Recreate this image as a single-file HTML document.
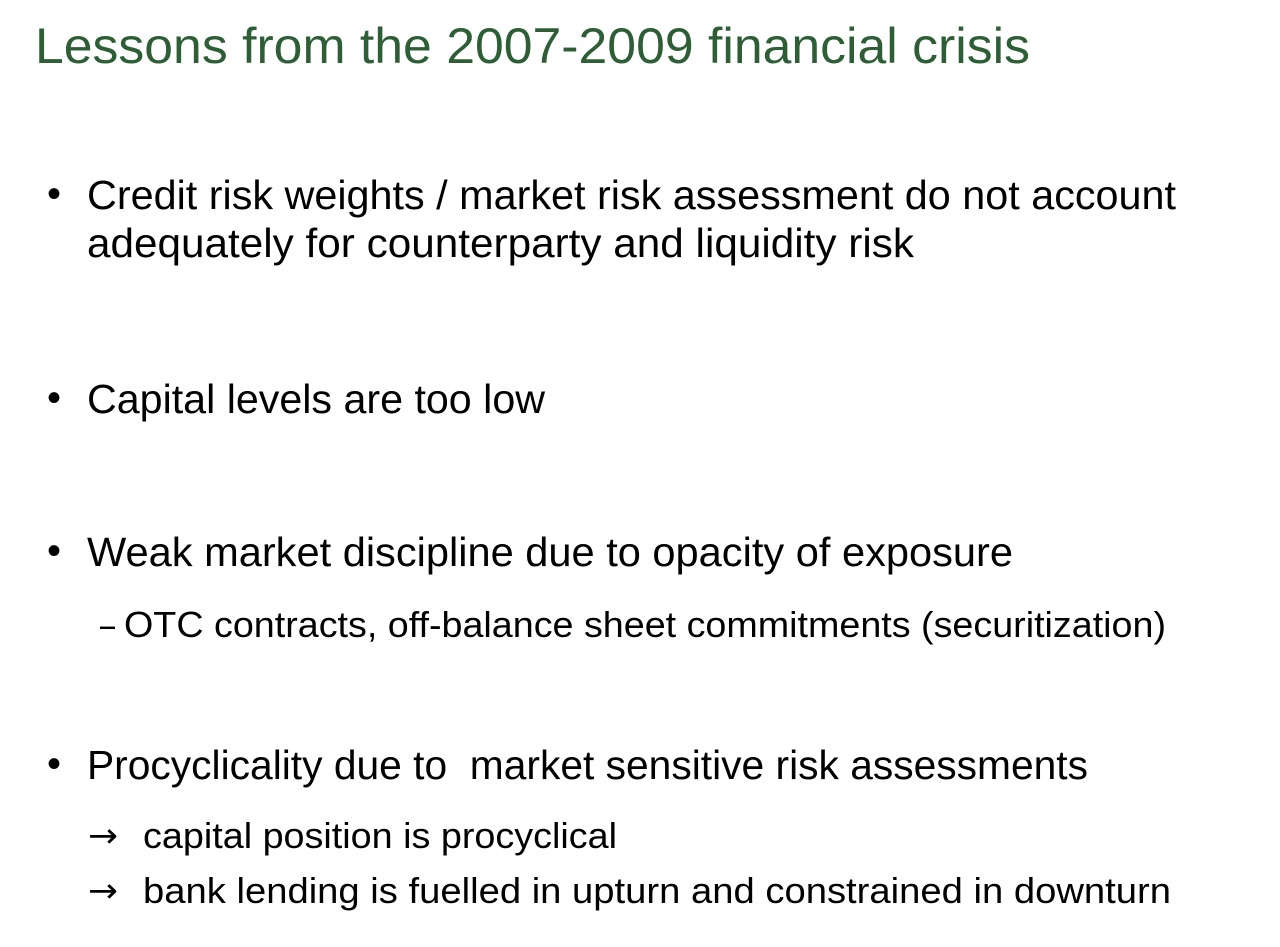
<!DOCTYPE html>
<html><head><meta charset="utf-8">
<style>
html,body{margin:0;padding:0;background:#fff;}
body{width:1280px;height:947px;position:relative;overflow:hidden;font-family:"Liberation Sans",sans-serif;color:#000;}
.t{position:absolute;white-space:pre;line-height:1;transform-origin:0 0;}
.title{color:#2e5e35;}
.arr{font-family:"DejaVu Sans",sans-serif;}
</style></head>
<body>
<div class="t title" data-x="35" data-b="63" data-w="995" data-f="50">Lessons from the 2007-2009 financial crisis</div>

<div class="t" data-x="47" data-b="208" data-f="40">•</div>
<div class="t" data-x="87" data-b="210" data-w="1089" data-f="41">Credit risk weights / market risk assessment do not account</div>
<div class="t" data-x="87" data-b="258" data-w="827" data-f="41">adequately for counterparty and liquidity risk</div>

<div class="t" data-x="47" data-b="412" data-f="40">•</div>
<div class="t" data-x="87" data-b="414" data-w="458" data-f="41">Capital levels are too low</div>

<div class="t" data-x="47" data-b="565" data-f="40">•</div>
<div class="t" data-x="87" data-b="567" data-w="926" data-f="41">Weak market discipline due to opacity of exposure</div>
<div class="t" data-x="100" data-b="637" data-w="15" data-f="36">–</div>
<div class="t" data-x="124" data-b="637" data-w="1042" data-f="36">OTC contracts, off-balance sheet commitments (securitization)</div>

<div class="t" data-x="47" data-b="778" data-f="40">•</div>
<div class="t" data-x="87" data-b="780" data-w="1001" data-f="41">Procyclicality due to  market sensitive risk assessments</div>
<div class="t arr" data-x="88" data-b="848" data-w="30" data-f="34">→</div>
<div class="t" data-x="143" data-b="848" data-w="474" data-f="36">capital position is procyclical</div>
<div class="t arr" data-x="88" data-b="903" data-w="30" data-f="34">→</div>
<div class="t" data-x="143" data-b="903" data-w="1028" data-f="36">bank lending is fuelled in upturn and constrained in downturn</div>

<script>
document.querySelectorAll('.t').forEach(function(el){
  var f=+el.dataset.f;
  el.style.fontSize=f+'px';
  el.style.left=el.dataset.x+'px';
  el.style.top=(+el.dataset.b - 0.8465*f)+'px';
  if(el.dataset.w){
    var w=el.getBoundingClientRect().width;
    el.style.transform='scaleX('+(+el.dataset.w/w)+')';
  }
});
</script>
</body></html>
